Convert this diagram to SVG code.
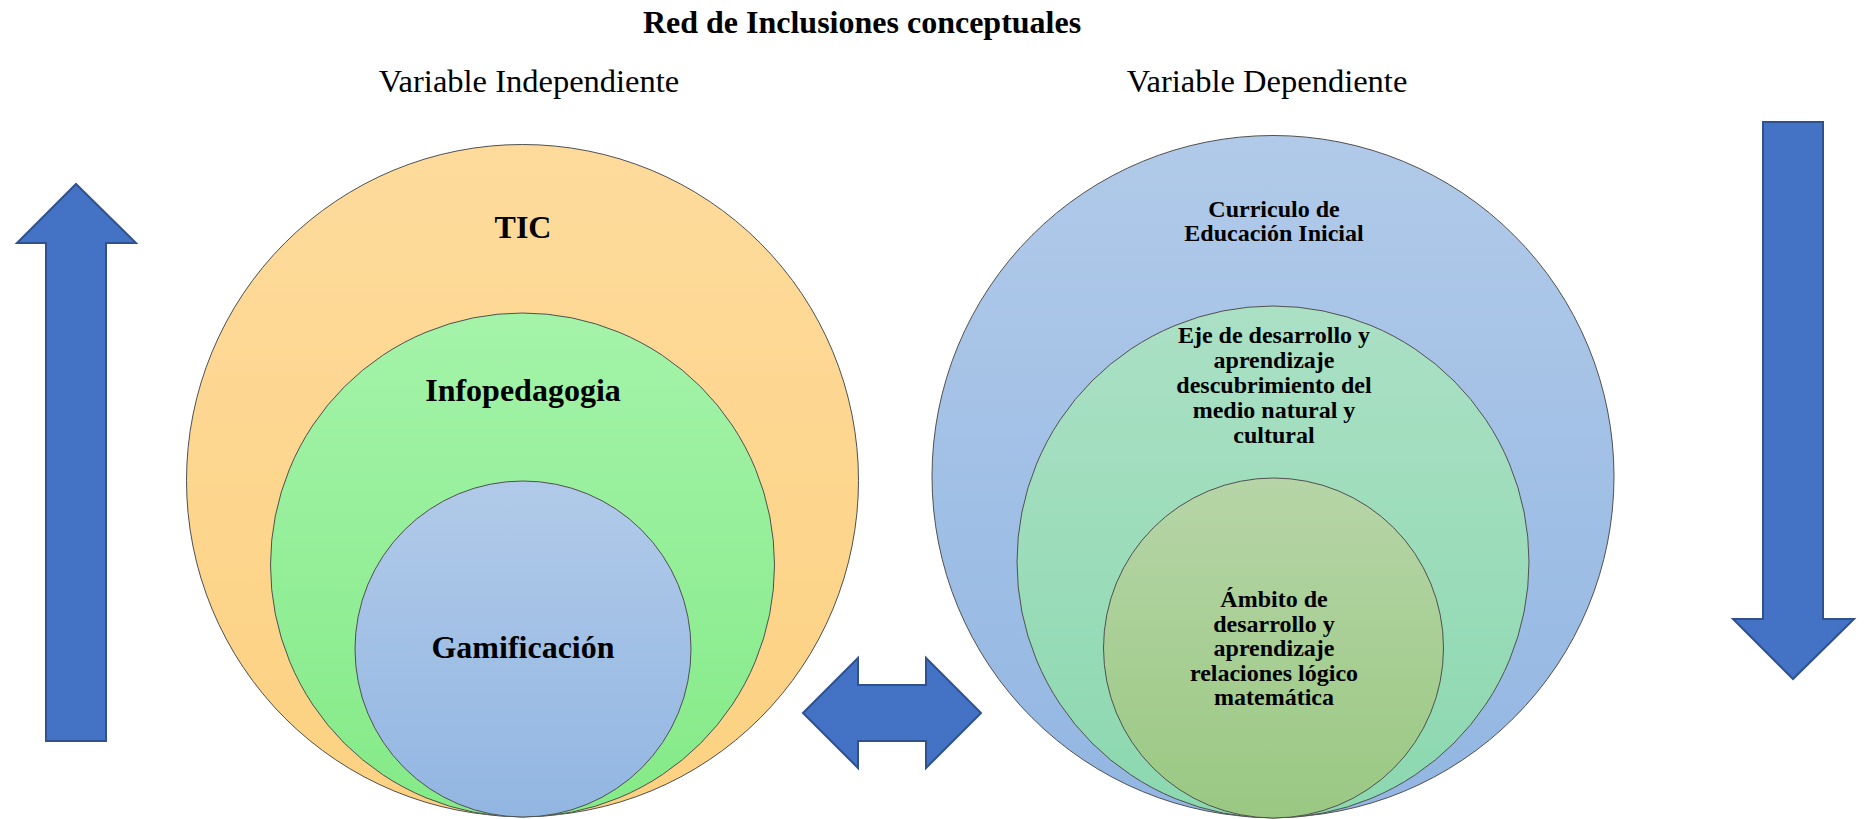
<svg xmlns="http://www.w3.org/2000/svg" width="1864" height="819" viewBox="0 0 1864 819">
<style>
text{font-family:"Liberation Serif","Times New Roman",serif;fill:#000;text-anchor:middle}
.title{font-size:32px;font-weight:bold}
.var{font-size:32.5px}
.big{font-size:32px;font-weight:bold}
.small{font-size:24px;font-weight:bold}
.circ{stroke:#505050;stroke-width:1}
.arrow{fill:#4472C4;stroke:#2F528F;stroke-width:2;stroke-linejoin:miter}
</style>
<defs>
<linearGradient id="gOrange" x1="0" y1="0" x2="0" y2="1"><stop offset="0" stop-color="#FEDB9C"/><stop offset="1" stop-color="#FCD181"/></linearGradient>
<linearGradient id="gGreen" x1="0" y1="0" x2="0" y2="1"><stop offset="0" stop-color="#A4F3A9"/><stop offset="1" stop-color="#84EA87"/></linearGradient>
<linearGradient id="gBlue" x1="0" y1="0" x2="0" y2="1"><stop offset="0" stop-color="#B1CAE9"/><stop offset="1" stop-color="#92B6E2"/></linearGradient>
<linearGradient id="gTeal" x1="0" y1="0" x2="0" y2="1"><stop offset="0" stop-color="#ABE0C5"/><stop offset="1" stop-color="#8BD8AF"/></linearGradient>
<linearGradient id="gOlive" x1="0" y1="0" x2="0" y2="1"><stop offset="0" stop-color="#B6D5A7"/><stop offset="1" stop-color="#9AC882"/></linearGradient>
</defs>
<rect width="1864" height="819" fill="#fff"/>
<g id="headings">
<text class="title" x="862" y="33">Red de Inclusiones conceptuales</text>
<text class="var" x="529" y="92">Variable Independiente</text>
<text class="var" x="1267" y="92">Variable Dependiente</text>
</g>
<g id="node-tic">
<circle class="circ" cx="522.5" cy="480.5" r="336" fill="url(#gOrange)"/>
<text class="big" x="523" y="238">TIC</text>
</g>
<g id="node-infopedagogia">
<circle class="circ" cx="522.5" cy="565" r="252" fill="url(#gGreen)"/>
<text class="big" x="523" y="401">Infopedagogia</text>
</g>
<g id="node-gamificacion">
<circle class="circ" cx="523" cy="649" r="168" fill="url(#gBlue)"/>
<text class="big" x="523" y="658">Gamificación</text>
</g>
<g id="node-curriculo">
<circle class="circ" cx="1273" cy="476.5" r="341" fill="url(#gBlue)"/>
<text class="small" x="1274" y="217">Curriculo de</text>
<text class="small" x="1274" y="241">Educación Inicial</text>
</g>
<g id="node-eje">
<circle class="circ" cx="1273" cy="562" r="256" fill="url(#gTeal)"/>
<text class="small" x="1274" y="343">Eje de desarrollo y</text>
<text class="small" x="1274" y="368">aprendizaje</text>
<text class="small" x="1274" y="393">descubrimiento del</text>
<text class="small" x="1274" y="418">medio natural y</text>
<text class="small" x="1274" y="443">cultural</text>
</g>
<g id="node-ambito">
<circle class="circ" cx="1273.5" cy="648" r="170" fill="url(#gOlive)"/>
<text class="small" x="1274" y="607">Ámbito de</text>
<text class="small" x="1274" y="632">desarrollo y</text>
<text class="small" x="1274" y="656">aprendizaje</text>
<text class="small" x="1274" y="681">relaciones lógico</text>
<text class="small" x="1274" y="705">matemática</text>
</g>
<g id="connectors">
<polygon class="arrow" points="76,184 136,243 106,243 106,741 46,741 46,243 17,243"/>
<polygon class="arrow" points="1763,122 1823,122 1823,619 1854,619 1793,679 1733,619 1763,619"/>
<polygon class="arrow" points="803,713 858,658 858,685 926,685 926,658 981,713 926,768 926,741 858,741 858,768"/>
</g>
</svg>
